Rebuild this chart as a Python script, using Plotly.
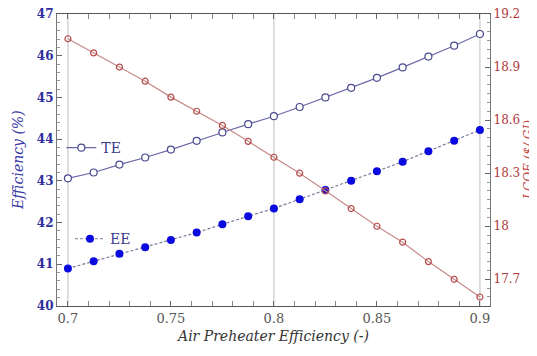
import plotly.graph_objects as go

x_eff = [0.7, 0.7125, 0.725, 0.7375, 0.75, 0.7625, 0.775, 0.7875, 0.8,
         0.8125, 0.825, 0.8375, 0.85, 0.8625, 0.875, 0.8875, 0.9]
te = [43.06, 43.20, 43.39, 43.56, 43.75, 43.96, 44.16, 44.36, 44.55,
      44.77, 45.00, 45.23, 45.47, 45.72, 45.98, 46.24, 46.52]
ee = [40.90, 41.07, 41.25, 41.41, 41.58, 41.76, 41.96, 42.15, 42.34,
      42.56, 42.78, 43.00, 43.23, 43.46, 43.71, 43.96, 44.22]
lcoe = [19.06, 18.98, 18.90, 18.82, 18.73, 18.65, 18.57, 18.48, 18.39,
        18.30, 18.20, 18.10, 18.00, 17.91, 17.80, 17.70, 17.60]
grid_x = [0.7, 0.8, 0.9]

FONT = "DejaVu Serif"
fig = go.Figure()

for gx in grid_x:
    fig.add_shape(type="line", xref="x", yref="paper", x0=gx, x1=gx, y0=0, y1=1,
                  line=dict(color="#d4d4d4", width=1.5), layer="below")

fig.add_trace(go.Scatter(
    x=x_eff, y=lcoe, yaxis="y2", mode="lines+markers", showlegend=False,
    line=dict(color="#c98a8a", width=1.2),
    marker=dict(symbol="circle-open", size=6, color="#b54a4a", line=dict(width=1.2))))

fig.add_trace(go.Scatter(
    x=x_eff, y=te, name="TE", mode="lines+markers", legend="legend",
    line=dict(color="#6a6aa6", width=1.2),
    marker=dict(symbol="circle", size=7, color="white",
                line=dict(color="#4a4a8e", width=1.2))))

fig.add_trace(go.Scatter(
    x=x_eff, y=ee, name="EE", mode="lines+markers", legend="legend2",
    line=dict(color="#7a7a9a", width=1.2, dash="3px,2px"),
    marker=dict(symbol="circle", size=8, color="#0a0ae0")))

# page body has an 8px default margin, so the figure is sized to fit the window
fig.update_layout(
    width=529, height=348,
    margin=dict(l=49, r=47, t=6, b=50, autoexpand=False),
    paper_bgcolor="white", plot_bgcolor="white",
    font=dict(family=FONT, size=13, color="#444"),
    xaxis=dict(range=[0.6947, 0.9049], tick0=0.7, dtick=0.05, automargin=False,
               ticks="inside", ticklen=5, tickcolor="#666",
               showline=True, linecolor="#555", linewidth=1.2, mirror="allticks",
               showgrid=False, zeroline=False, ticklabeloverflow="allow",
               minor=dict(dtick=0.01, ticks="inside", ticklen=3, tickcolor="#888"),
               tickfont=dict(family=FONT, size=13, color="#555"),
               title=dict(text="<i>Air Preheater Efficiency (-)</i>",
                          font=dict(family=FONT, size=14, color="#333"), standoff=6)),
    yaxis=dict(range=[40, 47], dtick=1, ticks="inside", ticklen=5, tickcolor="#666",
               automargin=False, ticklabeloverflow="allow",
               showline=True, linecolor="#777", linewidth=1.2,
               showgrid=False, zeroline=False,
               minor=dict(dtick=0.2, ticks="inside", ticklen=3, tickcolor="#999"),
               tickfont=dict(family=FONT, size=12, color="#2e2e9c", weight="bold")),
    yaxis2=dict(range=[17.549, 19.2], tick0=17.7, dtick=0.3, overlaying="y", side="right",
                automargin=False, ticklabeloverflow="allow",
                ticks="inside", ticklen=5, tickcolor="#666",
                showline=True, linecolor="#777", linewidth=1.2,
                showgrid=False, zeroline=False,
                minor=dict(dtick=0.05, ticks="inside", ticklen=3, tickcolor="#999"),
                tickfont=dict(family=FONT, size=12, color="#b03a3a")),
    legend=dict(x=0.01, y=0.541, xanchor="left", yanchor="middle",
                bgcolor="rgba(0,0,0,0)", font=dict(family=FONT, size=14, color="#3a3a8a")),
    legend2=dict(x=0.03, y=0.229, xanchor="left", yanchor="middle",
                 bgcolor="rgba(0,0,0,0)", font=dict(family=FONT, size=14, color="#3a3a8a")),
    annotations=[
        dict(text="<i>Efficiency (%)</i>", xref="paper", yref="paper",
             x=-0.09, y=0.5, xanchor="center", yanchor="middle", textangle=-90,
             showarrow=False, font=dict(family=FONT, size=14, color="#3a3aa6")),
        dict(text="<i>LCOE ($/ GJ)</i>", xref="paper", yref="paper",
             x=1.09, y=0.5, xanchor="center", yanchor="middle", textangle=-90,
             showarrow=False, font=dict(family=FONT, size=12, color="#c04545")),
    ],
)

fig.write_html("out.html")
